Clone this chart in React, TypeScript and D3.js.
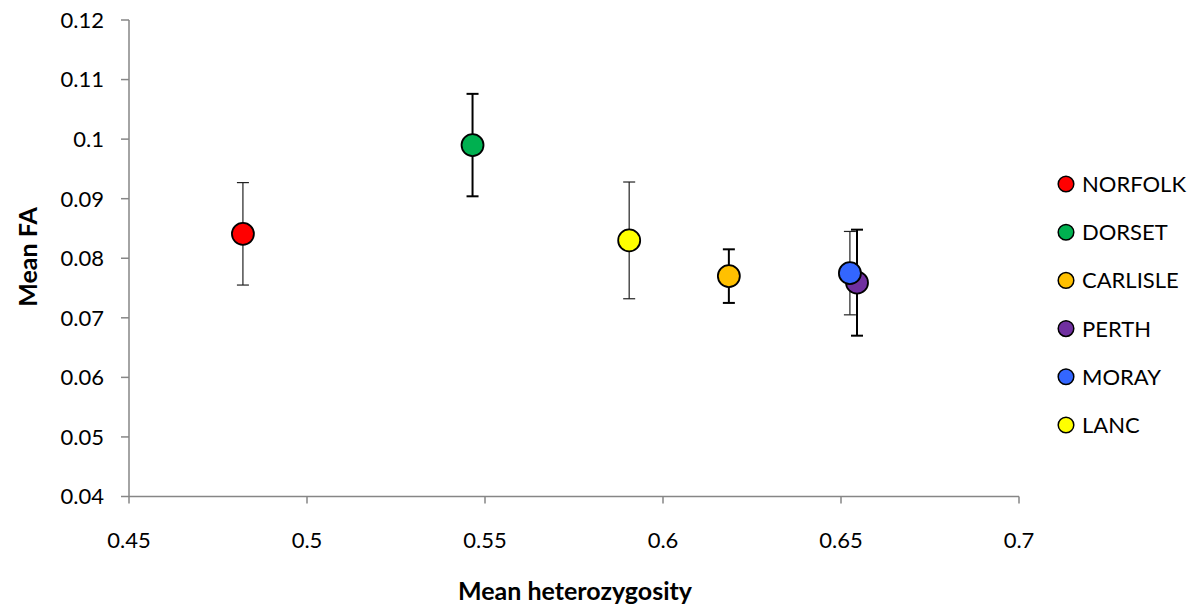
import React from "react";
import * as d3 from "d3";

const populations = ["NORFOLK", "DORSET", "CARLISLE", "PERTH", "MORAY", "LANC"];
const heterozygosity = [0.482, 0.5465, 0.6185, 0.6545, 0.6525, 0.5905];
const meanFA = [0.0841, 0.099, 0.077, 0.0759, 0.0775, 0.083];
const errorFA = [0.0086, 0.0086, 0.0045, 0.0089, 0.007, 0.0098];
const colors = ["#FF0000", "#00B050", "#FFC000", "#7030A0", "#3366FF", "#FFFF00"];
const boldBars = [false, true, true, true, false, false];
const xTicks = [0.45, 0.5, 0.55, 0.6, 0.65, 0.7];
const yTicks = [0.04, 0.05, 0.06, 0.07, 0.08, 0.09, 0.1, 0.11, 0.12];

const W = 1198;
const H = 610;
const FONT = "Lato, 'Open Sans', sans-serif";

export default function App() {
  const x = d3.scaleLinear().domain([0.45, 0.7]).range([129, 1019]);
  const y = d3.scaleLinear().domain([0.04, 0.12]).range([496.5, 20]);
  const axisColor = "#868686";

  return (
    <svg width={W} height={H} style={{ position: "absolute", left: 0, top: 0, background: "#fff" }} fontFamily={FONT}>
      {/* axes */}
      <line x1={x(0.45)} x2={x(0.7)} y1={y(0.04)} y2={y(0.04)} stroke={axisColor} strokeWidth={1.5} />
      <line x1={x(0.45)} x2={x(0.45)} y1={y(0.04)} y2={y(0.12)} stroke={axisColor} strokeWidth={1.5} />
      {yTicks.map((t) => (
        <g key={"y" + t}>
          <line x1={121} x2={x(0.45)} y1={y(t)} y2={y(t)} stroke={axisColor} strokeWidth={1.5} />
          <text x={104} y={y(t)} dy="0.36em" textAnchor="end" fontSize={22} fill="#000">
            {d3.format("")(t)}
          </text>
        </g>
      ))}
      {xTicks.map((t) => (
        <g key={"x" + t}>
          <line x1={x(t)} x2={x(t)} y1={y(0.04)} y2={y(0.04) + 7} stroke={axisColor} strokeWidth={1.5} />
          <text x={x(t)} y={540} dy="0.36em" textAnchor="middle" fontSize={22} fill="#000">
            {d3.format("")(t)}
          </text>
        </g>
      ))}
      <text x={0} y={0} transform={`translate(28, 257) rotate(-90)`} textAnchor="middle" dy="0.36em" fontSize={25} fontWeight="bold" fill="#000">
        Mean FA
      </text>
      <text x={575} y={591} textAnchor="middle" dy="0.36em" fontSize={25} fontWeight="bold" fill="#000">
        Mean heterozygosity
      </text>

      {/* error bars */}
      {populations.map((p, i) => {
        const cx = x(heterozygosity[i]);
        const top = y(meanFA[i] + errorFA[i]);
        const bot = y(meanFA[i] - errorFA[i]);
        const sw = boldBars[i] ? 2 : 1.2;
        const col = boldBars[i] ? "#000" : "#222";
        return (
          <g key={"e" + p} stroke={col} strokeWidth={sw}>
            <line x1={cx} x2={cx} y1={top} y2={bot} />
            <line x1={cx - 6} x2={cx + 6} y1={top} y2={top} />
            <line x1={cx - 6} x2={cx + 6} y1={bot} y2={bot} />
          </g>
        );
      })}

      {/* points */}
      {populations.map((p, i) => (
        <circle key={"c" + p} cx={x(heterozygosity[i])} cy={y(meanFA[i])} r={11} fill={colors[i]} stroke="#000" strokeWidth={1.8} />
      ))}

      {/* legend */}
      {populations.map((p, i) => (
        <g key={"l" + p} transform={`translate(1066, ${184 + i * 48.2})`}>
          <circle cx={0} cy={0} r={7.8} fill={colors[i]} stroke="#000" strokeWidth={1.5} />
          <text x={16} y={0} dy="0.36em" fontSize={22} fill="#000">
            {p}
          </text>
        </g>
      ))}
    </svg>
  );
}
